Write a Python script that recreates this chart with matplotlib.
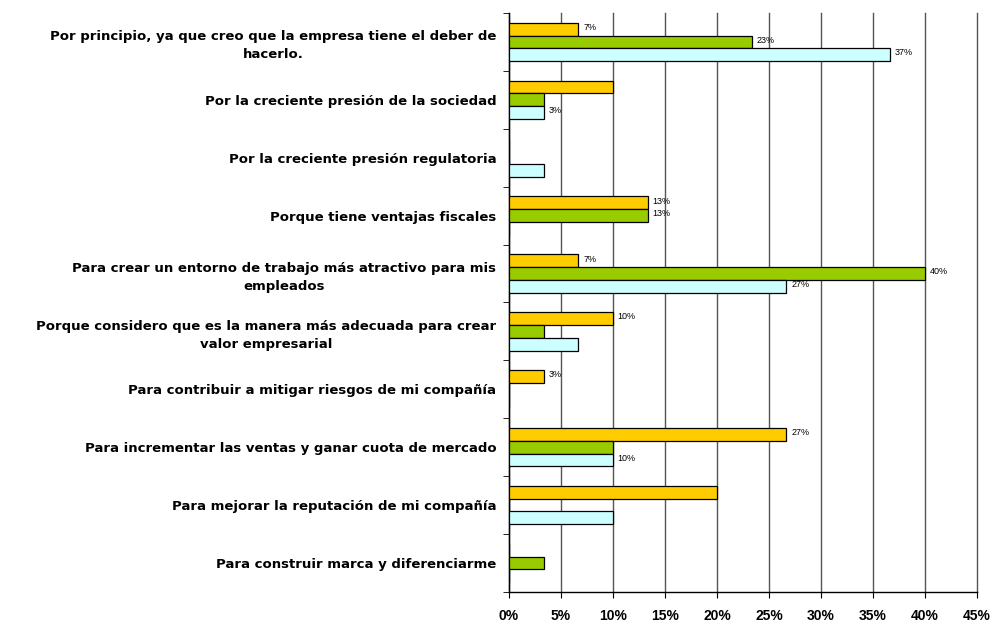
import matplotlib.pyplot as plt
import numpy as np

plt.rcParams['font.family'] = ['Liberation Sans', 'DejaVu Sans']

categorias = [
    "Por principio, ya que creo que la empresa tiene el deber de\nhacerlo.",
    "Por la creciente presión de la sociedad",
    "Por la creciente presión regulatoria",
    "Porque tiene ventajas fiscales",
    "Para crear un entorno de trabajo más atractivo para mis\nempleados",
    "Porque considero que es la manera más adecuada para crear\nvalor empresarial",
    "Para contribuir a mitigar riesgos de mi compañía",
    "Para incrementar las ventas y ganar cuota de mercado",
    "Para mejorar la reputación de mi compañía",
    "Para construir marca y diferenciarme",
]

# porcentajes por serie (amarillo, verde, celeste)
serie_amarilla = [6.67, 10.0, 0, 13.33, 6.67, 10.0, 3.33, 26.67, 20.0, 0]
serie_verde = [23.33, 3.33, 0, 13.33, 40.0, 3.33, 0, 10.0, 0, 3.33]
serie_celeste = [36.67, 3.33, 3.33, 0, 26.67, 6.67, 0, 10.0, 10.0, 0]

# qué barras llevan etiqueta en el original
etiq_amarilla = [1, 0, 0, 1, 1, 1, 1, 1, 0, 0]
etiq_verde = [1, 0, 0, 1, 1, 0, 0, 0, 0, 0]
etiq_celeste = [1, 1, 0, 0, 1, 0, 0, 1, 0, 0]

colores = ["#FFCC00", "#99CC00", "#CCFFFF"]

fig = plt.figure(figsize=(9.98, 6.24), dpi=100)
ax = fig.add_axes([0.510, 0.0513, 0.469, 0.928])

n = len(categorias)
y = np.arange(n)
h = 0.22
series = [serie_amarilla, serie_verde, serie_celeste]
etiquetas = [etiq_amarilla, etiq_verde, etiq_celeste]
offsets = [-h, 0, h]

for vals, etq, col, off in zip(series, etiquetas, colores, offsets):
    ax.barh(y + off, vals, height=h, color=col, edgecolor="black", linewidth=0.9, zorder=3)
    for yi, v, e in zip(y, vals, etq):
        if e:
            ax.text(v + 0.45, yi + off - 0.03, "%d%%" % round(v), fontsize=6.5,
                    va="center", ha="left", zorder=4)

ax.set_ylim(n - 0.5, -0.5)
ax.set_xlim(0, 45)
ax.set_xticks(np.arange(0, 46, 5))
ax.set_xticklabels(["%d%%" % v for v in range(0, 46, 5)], fontweight="bold", fontsize=10)
ax.set_yticks(y)
ax.set_yticklabels(categorias, fontweight="bold", fontsize=9.5, family="DejaVu Sans",
                   multialignment="center", linespacing=1.5)
ax.set_yticks(np.arange(-0.5, n, 1), minor=True)
ax.tick_params(axis="y", which="major", length=0, pad=9)
ax.tick_params(axis="y", which="minor", length=4, direction="out")
ax.tick_params(axis="x", length=4, direction="out", pad=8)

ax.grid(axis="x", color="#555555", linewidth=1.0, zorder=0)
for gl in ax.get_xgridlines():
    gl.set_clip_on(False)
ax.spines["top"].set_visible(False)
ax.spines["right"].set_visible(False)
ax.spines["left"].set_linewidth(1.0)
ax.spines["bottom"].set_linewidth(1.0)

plt.savefig("out.png", dpi=100)
